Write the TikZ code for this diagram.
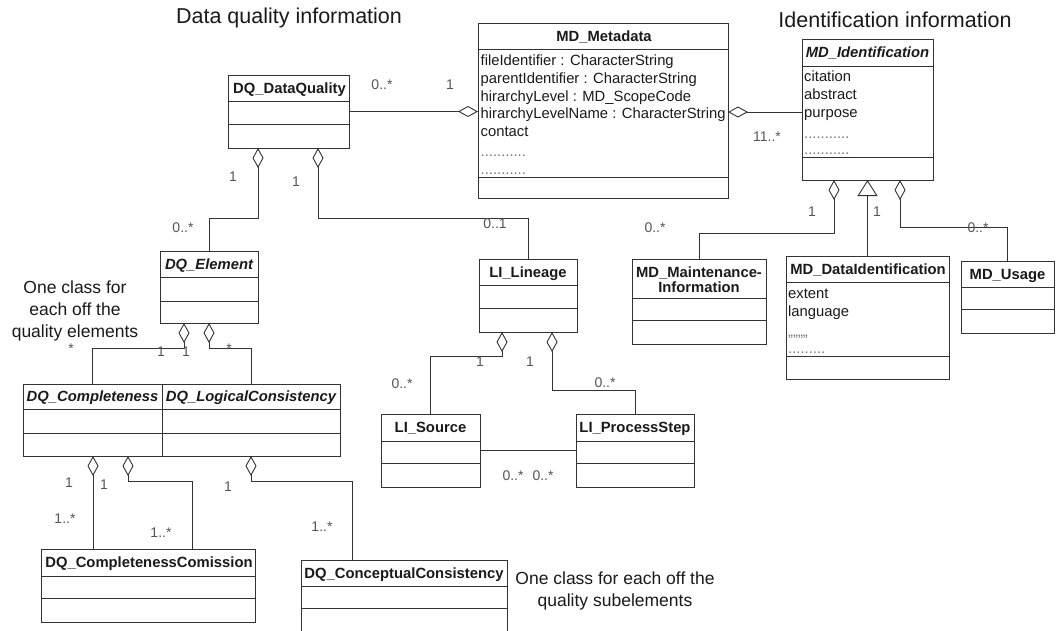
\documentclass[tikz,border=0pt]{standalone}
\usepackage{fontspec}
\setmainfont{Liberation Sans}
\usetikzlibrary{arrows.meta}
\definecolor{ink}{HTML}{1A1A1A}
\definecolor{edge}{HTML}{333333}
\definecolor{mult}{HTML}{555555}
\definecolor{faint}{HTML}{777777}

\tikzset{
  classbox/.style={draw=edge, line width=1pt, anchor=north west, inner sep=0pt, outer sep=0pt},
  compline/.style={draw=edge, line width=1pt},
  head/.style={font=\fontsize{14.8}{17}\selectfont\bfseries, text=ink, inner sep=0pt, text height=10.6pt, text depth=0pt},
  headit/.style={head, font=\fontsize{14.8}{17}\selectfont\bfseries\itshape},
  attr/.style={font=\fontsize{14.8}{17}\selectfont, text=ink, anchor=west, inner sep=0pt, text height=10.6pt, text depth=0pt},
  dots/.style={attr, text=faint},
  mlabel/.style={font=\fontsize{14}{16}\selectfont, text=mult, inner sep=0pt},
  note/.style={font=\fontsize{17.5}{22}\selectfont, text=ink, align=center, inner sep=0pt},
  heading/.style={font=\fontsize{21.5}{25}\selectfont, text=ink, inner sep=0pt},
  conn/.style={draw=edge, line width=0.9pt},
  agg/.style={conn, {Diamond[open,length=20pt,width=11pt]}-},
  gen/.style={conn, {Triangle[open,length=16pt,width=20pt]}-},
}

% class frame: name, x1, y1, x2, y2, first divider y, second divider y
\newcommand\umlclass[7]{%
  \node[classbox, minimum width={(#4-#2)*1pt}, minimum height={(#5-#3)*1pt}] (#1) at (#2,#3) {};
  \draw[compline] (#1.west |- 0,#6) -- (#1.east |- 0,#6);
  \draw[compline] (#1.west |- 0,#7) -- (#1.east |- 0,#7);
}

\begin{document}
\begin{tikzpicture}[x=1pt,y=-1pt]
\fill[white] (0,0) rectangle (1056,630);
\useasboundingbox (0,0) rectangle (1056,630);

% headings
\node[heading] (hdq) at (289,18) {Data quality information};
\node[heading] (hid) at (895,20) {Identification information};

% classes
\umlclass{dq}{228}{75}{349}{148}{101}{124}
\node[head] (dq-t) at (289.5,88) {DQ\_DataQuality};

\umlclass{meta}{478}{23}{728}{198}{49}{177}
\node[head] (meta-t) at (604,36) {MD\_Metadata};
\node[attr] (m1) at (480.5,60) {fileIdentifier : CharacterString};
\node[attr] (m2) at (480.5,78) {parentIdentifier : CharacterString};
\node[attr] (m3) at (480.5,96) {hirarchyLevel : MD\_ScopeCode};
\node[attr] (m4) at (480.5,113) {hirarchyLevelName : CharacterString};
\node[attr] (m5) at (480.5,131) {contact};
\node[dots] (m6) at (480.5,151) {...........};
\node[dots] (m7) at (480.5,169) {...........};

\umlclass{ident}{802}{39}{933}{180}{66}{157}
\node[headit] (ident-t) at (867.5,52.5) {MD\_Identification};
\node[attr] (i1) at (804,76) {citation};
\node[attr] (i2) at (804,94) {abstract};
\node[attr] (i3) at (804,112) {purpose};
\node[dots] (i4) at (804,133) {...........};
\node[dots] (i5) at (804,149) {...........};

\umlclass{maint}{632}{259}{766}{344}{298}{320}
\node[head] (maint-t1) at (699,272) {MD\_Maintenance-};
\node[head] (maint-t2) at (699,287) {Information};

\umlclass{dataid}{786}{256}{949}{379}{282}{356}
\node[head] (dataid-t) at (868,269) {MD\_DataIdentification};
\node[attr] (d1) at (788,293) {extent};
\node[attr] (d2) at (788,311) {language};
\node[dots] (d3) at (788,331) {,,,,,,,,};
\node[dots] (d4) at (788,348) {.........};

\umlclass{usage}{961}{261}{1054}{333}{287}{309}
\node[head] (usage-t) at (1007.5,274) {MD\_Usage};

\umlclass{lin}{479}{259}{577}{332}{285}{308}
\node[head] (lin-t) at (528,272) {LI\_Lineage};

\umlclass{src}{381}{414}{480}{487}{441}{463}
\node[head] (src-t) at (430.5,427.5) {LI\_Source};

\umlclass{ps}{576}{414}{694}{487}{441}{463}
\node[head] (ps-t) at (635,427.5) {LI\_ProcessStep};

\umlclass{el}{160}{251}{258}{323}{277}{301}
\node[headit] (el-t) at (209,264) {DQ\_Element};

\umlclass{comp}{23}{384}{162}{456}{409}{433}
\node[headit] (comp-t) at (92.5,396.5) {DQ\_Completeness};

\umlclass{logic}{162}{384}{340}{456}{409}{433}
\node[headit] (logic-t) at (251,396.5) {DQ\_LogicalConsistency};

\umlclass{ccom}{41}{549}{255}{622}{576}{598}
\node[head] (ccom-t) at (149,562) {DQ\_CompletenessComission};

\umlclass{conc}{301}{560}{507}{640}{586}{608}
\node[head] (conc-t) at (404,573) {DQ\_ConceptualConsistency};

% notes
\node[note] (n1) at (75,311) {One class for\\each off the\\quality elements};
\node[note] (n2) at (615,591) {One class for each off the\\quality subelements};

% aggregations
\draw[agg] (meta.west |- dq.east) -- (dq.east);
\draw[agg] (meta.east |- i3.west) -- (ident.west |- i3.west);
\draw[agg] ([xshift=30pt]dq.south west) |- ([yshift=33pt]el.north) -- (el.north);
\draw[agg] ([xshift=90pt]dq.south west) |- ([yshift=41pt]lin.north) -- (lin.north);
\draw[agg] ([xshift=24pt]el.south west) |- ([yshift=36pt]comp.north) -- (comp.north);
\draw[agg] (el.south) |- ([yshift=36pt]logic.north) -- (logic.north);
\draw[agg] ([xshift=32pt]ident.south west) |- ([yshift=26pt]maint.north) -- (maint.north);
\draw[agg] ([xshift=98pt]ident.south west) |- ([yshift=34pt]usage.north) -- (usage.north);
\draw[agg] ([xshift=23pt]lin.south west) |- ([yshift=58pt]src.north) -- (src.north);
\draw[agg] ([xshift=73pt]lin.south west) |- ([yshift=24pt]ps.north) -- (ps.north);
\draw[agg] ([xshift=70pt]comp.south west) -- ([xshift=52pt]ccom.north west);
\draw[agg] ([xshift=105pt]comp.south west) |- ([xshift=151pt,yshift=68pt]ccom.north west) -- ([xshift=151pt]ccom.north west);
\draw[agg] (logic.south) |- ([xshift=51pt,yshift=79pt]conc.north west) -- ([xshift=51pt]conc.north west);

% generalization and plain association
\draw[gen] (ident.south) -- (dataid.north);
\draw[conn] (src.east) -- (ps.west);

% multiplicities
\node[mlabel] (l1) at (382,85) {0..*};
\node[mlabel] (l2) at (450,85) {1};
\node[mlabel] (l3) at (767,137) {11..*};
\node[mlabel] (l4) at (233,177) {1};
\node[mlabel] (l5) at (296,182) {1};
\node[mlabel] (l6) at (183,228) {0..*};
\node[mlabel] (l7) at (495,224) {0..1};
\node[mlabel] (l8) at (71,349) {*};
\node[mlabel] (l9) at (161,352) {1};
\node[mlabel] (l10) at (186,352) {1};
\node[mlabel] (l11) at (229,349) {*};
\node[mlabel] (l12) at (812,212) {1};
\node[mlabel] (l13) at (877,212) {1};
\node[mlabel] (l14) at (655,228) {0..*};
\node[mlabel] (l15) at (978,228) {0..*};
\node[mlabel] (l16) at (480,362) {1};
\node[mlabel] (l17) at (530,362) {1};
\node[mlabel] (l18) at (402,384) {0..*};
\node[mlabel] (l19) at (605,383) {0..*};
\node[mlabel] (l20) at (513,476) {0..*};
\node[mlabel] (l21) at (543,476) {0..*};
\node[mlabel] (l22) at (69,483) {1};
\node[mlabel] (l23) at (104,485) {1};
\node[mlabel] (l24) at (228,487) {1};
\node[mlabel] (l25) at (65,519) {1..*};
\node[mlabel] (l26) at (161,533) {1..*};
\node[mlabel] (l27) at (322,527) {1..*};
\end{tikzpicture}
\end{document}
